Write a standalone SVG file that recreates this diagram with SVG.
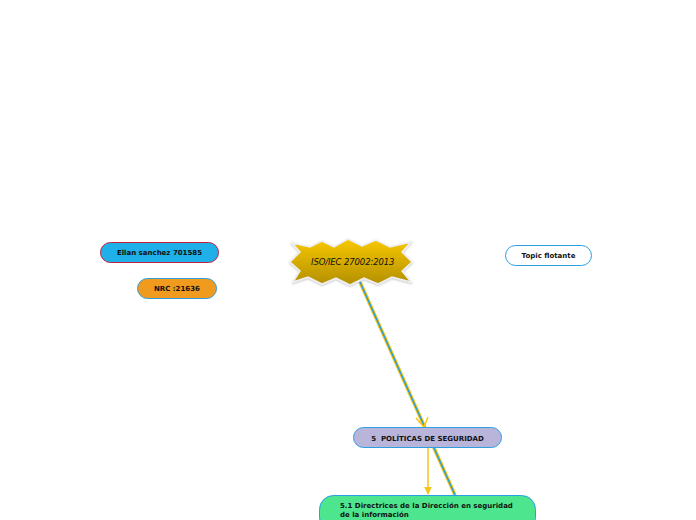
<svg xmlns="http://www.w3.org/2000/svg" width="696" height="520" viewBox="0 0 696 520">
<defs>
<linearGradient id="gold" x1="0" y1="0" x2="0" y2="1">
<stop offset="0" stop-color="#f7c800"/>
<stop offset="1" stop-color="#b38f00"/>
</linearGradient>
<filter id="sh" x="-10%" y="-20%" width="120%" height="140%">
<feDropShadow dx="0" dy="1" stdDeviation="1" flood-color="#000" flood-opacity="0.25"/>
</filter>
<marker id="ah" viewBox="0 0 10 10" refX="9" refY="5" markerWidth="8" markerHeight="8" markerUnits="userSpaceOnUse" orient="auto">
<path d="M0,0 L10,5 L0,10 z" fill="#f5c518"/>
</marker>
</defs>
<style>
.lbl{font-family:"DejaVu Sans",Verdana,sans-serif;font-weight:bold;font-size:7px;fill:#111;}
.c{text-anchor:middle;}
.n{stroke-width:1;}
</style>
<rect width="696" height="520" fill="#fff"/>
<g id="connectors">
<line x1="360" y1="282" x2="455" y2="495" stroke="#f5c518" stroke-width="3.5"/>
<line x1="360" y1="282" x2="455" y2="495" stroke="#2a9fd6" stroke-width="1.5"/>
<path d="M416,418 L424,427 L428,417" fill="none" stroke="#f5c518" stroke-width="1.5"/>
<line x1="428" y1="448" x2="428" y2="494" stroke="#f5c518" stroke-width="1.5" marker-end="url(#ah)"/>
</g>
<g id="center">
<polygon filter="url(#sh)" fill="url(#gold)" stroke="#eee" stroke-width="1.5" points="292,243 310,247 322,241 334,247 348,239 362,246 376,240 390,247 411,242 402,252 412,262 402,271 411,282 392,277 378,284 364,278 350,285 336,278 322,284 308,277 293,282 300,271 290,262 300,252"/>
<text x="353" y="264.5" class="c" font-family="'DejaVu Sans',sans-serif" font-style="italic" font-size="8.5" letter-spacing="0.5" textLength="84" fill="#111">ISO/IEC 27002:2013</text>
</g>
<g id="ellan">
<rect x="100.5" y="242.5" width="118" height="20" rx="10" fill="#1fb0ea" stroke="#c41e3a" class="n"/>
<text x="159.5" y="255" class="lbl c">Ellan sanchez 701585</text>
</g>
<g id="nrc">
<rect x="137.5" y="278.5" width="79" height="20" rx="10" fill="#f09a1e" stroke="#2d9ee0" class="n"/>
<text x="177" y="291" class="lbl c">NRC :21636</text>
</g>
<g id="topic">
<rect x="505.5" y="245.5" width="86" height="20" rx="10" fill="#fff" stroke="#2d9ee0" class="n"/>
<text x="548.5" y="258" class="lbl c">Topic flotante</text>
</g>
<g id="politicas">
<rect x="353.5" y="427.5" width="148" height="20" rx="10" fill="#b9b4d9" stroke="#2d9ee0" class="n"/>
<text x="427.5" y="440.5" class="lbl c">5&#160; POLÍTICAS DE SEGURIDAD</text>
</g>
<g id="directrices">
<rect x="319.5" y="495.5" width="216" height="36" rx="14" fill="#4de68f" stroke="#2d9ee0" class="n"/>
<text x="340" y="508" class="lbl">5.1 Directrices de la Dirección en seguridad</text>
<text x="340" y="517" class="lbl">de la información</text>
</g>
</svg>
